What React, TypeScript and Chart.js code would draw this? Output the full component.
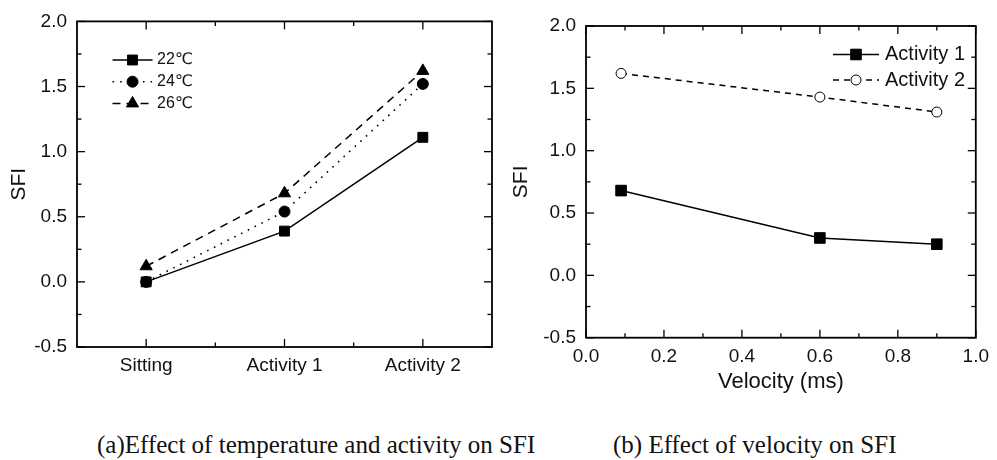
import React, { useEffect, useRef } from 'react';
import { Chart, registerables } from 'chart.js';
import { drawPoint } from 'chart.js/helpers';

Chart.register(...registerables);

// ---------- data ----------
const categories = ['Sitting', 'Activity 1', 'Activity 2'];
const tempLabels = ['22℃', '24℃', '26℃'];
const sfi22 = [0.0, 0.39, 1.11];
const sfi24 = [0.0, 0.54, 1.52];
const sfi26 = [0.12, 0.68, 1.62];

const velocity = [0.09, 0.6, 0.9];
const activityLabels = ['Activity 1', 'Activity 2'];
const activity1 = [0.68, 0.3, 0.25];
const activity2 = [1.62, 1.43, 1.31];

const yMin = -0.5;
const yMax = 2.0;
const yStep = 0.5;
const xMin = 0;
const xMax = 1;
const xStep = 0.2;

const axisTitleY = 'SFI';
const axisTitleX = 'Velocity (ms)';
const captionA = '(a)Effect of temperature and activity on SFI';
const captionB = '(b) Effect of velocity on SFI';

const INK = '#111111';
const SANS = '"Liberation Sans", Arial, "DejaVu Sans", sans-serif';

// ---------- plugins ----------
const frameTicks = {
  id: 'frameTicks',
  afterDatasetsDraw(chart: any) {
    const { ctx, chartArea } = chart;
    const { left, right, top, bottom } = chartArea;
    const xs = chart.scales.x;
    const ys = chart.scales.y;
    const mids = (vals: number[]) => {
      const out: number[] = [];
      for (let i = 0; i < vals.length - 1; i++) out.push((vals[i] + vals[i + 1]) / 2);
      return out;
    };
    const xMajor = xs.ticks.map((t: any) => t.value);
    const yMajor = ys.ticks.map((t: any) => t.value);
    const xMinor = mids(xMajor);
    const yMinor = mids(yMajor);
    ctx.save();
    ctx.strokeStyle = '#000';
    ctx.lineWidth = 1.3;
    const seg = (x1: number, y1: number, x2: number, y2: number) => {
      ctx.beginPath();
      ctx.moveTo(x1, y1);
      ctx.lineTo(x2, y2);
      ctx.stroke();
    };
    const MAJ = 8;
    const MIN = 4.5;
    xMajor.forEach((v: number) => {
      const p = xs.getPixelForValue(v);
      seg(p, bottom, p, bottom - MAJ);
      seg(p, top, p, top + MAJ);
    });
    xMinor.forEach((v: number) => {
      const p = xs.getPixelForValue(v);
      seg(p, bottom, p, bottom - MIN);
      seg(p, top, p, top + MIN);
    });
    yMajor.forEach((v: number) => {
      const p = ys.getPixelForValue(v);
      seg(left, p, left + MAJ, p);
      seg(right, p, right - MAJ, p);
    });
    yMinor.forEach((v: number) => {
      const p = ys.getPixelForValue(v);
      seg(left, p, left + MIN, p);
      seg(right, p, right - MIN, p);
    });
    ctx.lineWidth = 1.8;
    ctx.strokeRect(left, top, right - left, bottom - top);
    ctx.restore();
  },
};

const sampleLegend = {
  id: 'sampleLegend',
  afterDraw(chart: any, _args: any, opts: any) {
    const { ctx } = chart;
    chart.data.datasets.forEach((ds: any, i: number) => {
      const y = opts.y0 + i * opts.dy;
      ctx.save();
      ctx.strokeStyle = ds.borderColor;
      ctx.lineWidth = ds.borderWidth;
      ctx.setLineDash(ds.borderDash || []);
      ctx.beginPath();
      ctx.moveTo(opts.x0, y);
      ctx.lineTo(opts.x1, y);
      ctx.stroke();
      ctx.setLineDash([]);
      ctx.fillStyle = ds.pointBackgroundColor;
      ctx.strokeStyle = ds.pointBorderColor;
      ctx.lineWidth = ds.pointBorderWidth;
      drawPoint(
        ctx,
        { pointStyle: ds.pointStyle, radius: ds.pointRadius, rotation: 0, borderWidth: ds.pointBorderWidth },
        (opts.x0 + opts.x1) / 2,
        y
      );
      ctx.fillStyle = INK;
      ctx.font = opts.font;
      ctx.textBaseline = 'middle';
      ctx.textAlign = 'left';
      ctx.fillText(ds.label, opts.textX, y);
      ctx.restore();
    });
  },
};

const yAxis = (width: number, titlePad: number) => ({
  type: 'linear',
  min: yMin,
  max: yMax,
  ticks: {
    stepSize: yStep,
    padding: 10,
    color: INK,
    font: { size: 19, family: SANS },
    callback: (v: any) => Number(v).toFixed(1),
  },
  grid: { display: false, drawTicks: false },
  border: { display: false },
  title: {
    display: true,
    text: axisTitleY,
    color: INK,
    font: { size: 21, family: SANS },
    padding: { top: titlePad, bottom: 0 },
  },
  afterFit: (s: any) => {
    s.width = width;
  },
});

export default function App() {
  const leftRef = useRef<HTMLCanvasElement>(null);
  const rightRef = useRef<HTMLCanvasElement>(null);

  useEffect(() => {
    Chart.defaults.font.family = SANS;
    Chart.defaults.color = INK;

    const left = new Chart(leftRef.current as HTMLCanvasElement, {
      type: 'line',
      data: {
        labels: categories,
        datasets: [
          {
            label: tempLabels[0],
            data: sfi22,
            borderColor: '#000',
            borderWidth: 1.5,
            pointStyle: 'rect',
            pointRadius: 7,
            pointBackgroundColor: '#000',
            pointBorderColor: '#000',
            pointBorderWidth: 1,
          },
          {
            label: tempLabels[1],
            data: sfi24,
            borderColor: '#000',
            borderWidth: 1.6,
            borderDash: [1.6, 6],
            pointStyle: 'circle',
            pointRadius: 5.5,
            pointBackgroundColor: '#000',
            pointBorderColor: '#000',
            pointBorderWidth: 1,
          },
          {
            label: tempLabels[2],
            data: sfi26,
            borderColor: '#000',
            borderWidth: 1.5,
            borderDash: [8, 6],
            pointStyle: 'triangle',
            pointRadius: 7,
            pointBackgroundColor: '#000',
            pointBorderColor: '#000',
            pointBorderWidth: 1,
          },
        ] as any,
      },
      options: {
        responsive: false,
        animation: false,
        events: [],
        layout: { padding: { left: 0, top: 15.5, right: 3, bottom: 0 } },
        plugins: {
          legend: { display: false },
          tooltip: { enabled: false },
          sampleLegend: {
            x0: 112.5,
            x1: 152.5,
            textX: 157,
            y0: 60,
            dy: 21.7,
            font: '16px ' + SANS,
          },
        } as any,
        scales: {
          x: {
            type: 'category',
            offset: true,
            ticks: { padding: 7.5, color: INK, font: { size: 19, family: SANS } },
            grid: { display: false, drawTicks: false },
            border: { display: false },
            afterFit: (s: any) => {
              s.height = 53;
            },
          },
          y: yAxis(77, 7),
        } as any,
      },
      plugins: [frameTicks, sampleLegend],
    } as any);

    const right = new Chart(rightRef.current as HTMLCanvasElement, {
      type: 'line',
      data: {
        datasets: [
          {
            label: activityLabels[0],
            data: velocity.map((v, i) => ({ x: v, y: activity1[i] })),
            borderColor: '#000',
            borderWidth: 1.5,
            pointStyle: 'rect',
            pointRadius: 7.5,
            pointBackgroundColor: '#000',
            pointBorderColor: '#000',
            pointBorderWidth: 1,
          },
          {
            label: activityLabels[1],
            data: velocity.map((v, i) => ({ x: v, y: activity2[i] })),
            borderColor: '#000',
            borderWidth: 1.5,
            borderDash: [6, 5],
            pointStyle: 'circle',
            pointRadius: 5,
            pointBackgroundColor: '#fff',
            pointBorderColor: '#000',
            pointBorderWidth: 1,
          },
        ] as any,
      },
      options: {
        responsive: false,
        animation: false,
        events: [],
        layout: { padding: { left: 0, top: 26, right: 15.3, bottom: 0 } },
        plugins: {
          legend: { display: false },
          tooltip: { enabled: false },
          sampleLegend: {
            x0: 333,
            x1: 379,
            textX: 385,
            y0: 54.5,
            dy: 25.5,
            font: '20px ' + SANS,
          },
        } as any,
        scales: {
          x: {
            type: 'linear',
            min: xMin,
            max: xMax,
            ticks: {
              stepSize: xStep,
              padding: 8,
              color: INK,
              font: { size: 19, family: SANS },
              callback: (v: any) => Number(v).toFixed(1),
            },
            grid: { display: false, drawTicks: false },
            border: { display: false },
            title: {
              display: true,
              text: axisTitleX,
              color: INK,
              font: { size: 22, family: SANS },
              padding: { top: 0, bottom: 5 },
            },
            afterFit: (s: any) => {
              s.height = 62.3;
            },
          },
          y: yAxis(86, 8.4),
        } as any,
      },
      plugins: [frameTicks, sampleLegend],
    } as any);

    return () => {
      left.destroy();
      right.destroy();
    };
  }, []);

  const captionStyle: React.CSSProperties = {
    position: 'absolute',
    top: 430.7,
    fontFamily: '"Liberation Serif", "Times New Roman", serif',
    fontSize: 25,
    color: INK,
    whiteSpace: 'nowrap',
    lineHeight: 'normal',
  };

  return (
    <div style={{ position: 'absolute', left: 0, top: 0, width: 997, height: 460, background: '#fff', overflow: 'hidden' }}>
      <canvas ref={leftRef} width={500} height={400} style={{ position: 'absolute', left: 0, top: 0, width: 500, height: 400 }} />
      <canvas ref={rightRef} width={497} height={400} style={{ position: 'absolute', left: 500, top: 0, width: 497, height: 400 }} />
      <div style={{ ...captionStyle, left: 97 }}>{captionA}</div>
      <div style={{ ...captionStyle, left: 613 }}>{captionB}</div>
    </div>
  );
}
